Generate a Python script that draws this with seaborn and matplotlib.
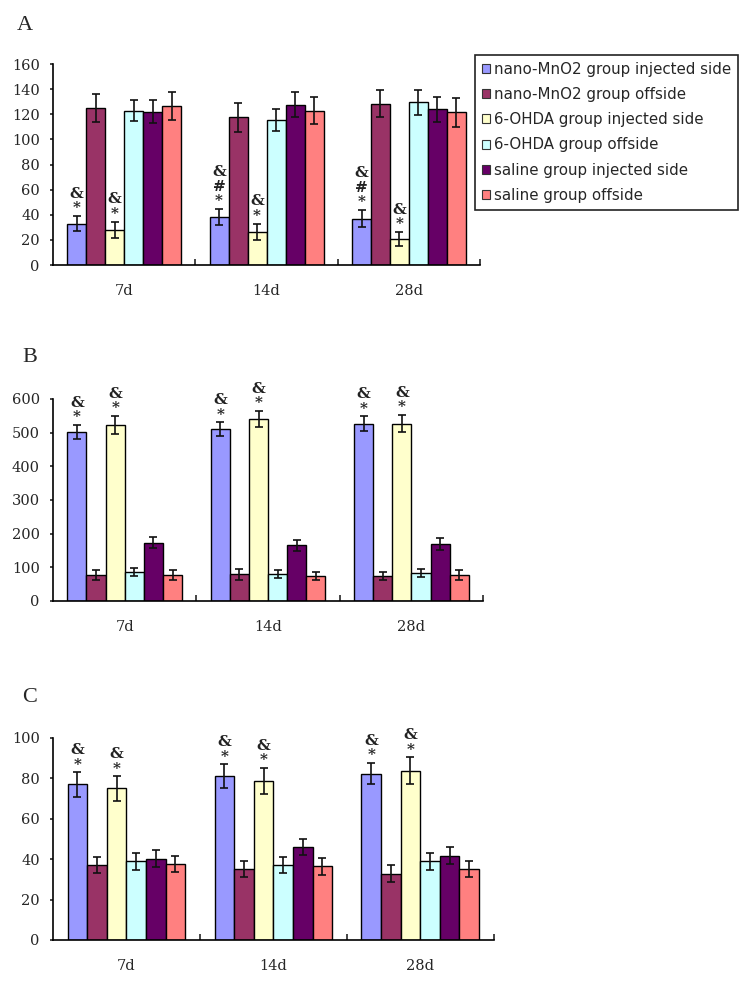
import pandas as pd
import seaborn as sns
import matplotlib.pyplot as plt
from matplotlib.patches import Patch

# --- data ---
groups = ["nano-MnO2 group injected side", "nano-MnO2 group offside",
          "6-OHDA group injected side", "6-OHDA group offside",
          "saline group injected side", "saline group offside"]
days = ["7d", "14d", "28d"]
colors = ["#9999FF", "#993366", "#FFFFCC", "#CCFFFF", "#660066", "#FF8080"]

# rows = groups, columns = days
a_mean = [[33, 38, 37], [125, 117.5, 128.5], [28, 26.5, 21],
          [123, 115.5, 129.5], [122, 127.5, 124], [126.5, 123, 121.5]]
a_err = [[6, 6.5, 7], [11, 11.5, 11], [6.5, 6.5, 5.5],
         [8, 9, 10], [9, 10, 10], [11, 11, 11.5]]
a_marks = {0: ["&\n*", "&\n#\n*", "&\n#\n*"], 2: ["&\n*", "&\n*", "&\n*"]}

b_mean = [[502, 510, 527], [77, 79, 75], [523, 540, 527],
          [87, 79, 83], [173, 165, 169], [77, 75, 77]]
b_err = [[21, 21, 21], [14, 17, 12], [26, 24, 25],
         [12, 12, 13], [16, 17, 17], [14, 12, 14]]
b_marks = {0: ["&\n*"] * 3, 2: ["&\n*"] * 3}

c_mean = [[77, 81, 82.3], [37, 35, 32.7], [75, 78.8, 83.8],
          [39, 37, 39], [40.3, 46, 41.8], [37.7, 36.4, 35.2]]
c_err = [[6, 6, 5.3], [4, 4, 4.2], [6, 6.3, 6.6],
         [4.3, 4, 4.3], [4.3, 4, 4.2], [4, 4, 4]]
c_marks = {0: ["&\n*"] * 3, 2: ["&\n*"] * 3}

sns.set_style("ticks")
plt.rcParams['font.family'] = ['DejaVu Serif', 'DejaVu Sans']


def draw_panel(ax, means, errs, marks, ymax, ystep):
    df = pd.DataFrame([{"day": d, "group": g, "value": means[gi][di]}
                       for gi, g in enumerate(groups) for di, d in enumerate(days)])
    sns.barplot(data=df, x="day", y="value", hue="group", order=days,
                hue_order=groups, palette=colors, saturation=1, errorbar=None,
                edgecolor="black", linewidth=1, width=0.8, gap=0,
                legend=False, ax=ax)
    bar_sets = list(ax.containers)
    for gi, cont in enumerate(bar_sets):
        for di, bar in enumerate(cont):
            x = bar.get_x() + bar.get_width() / 2
            y = bar.get_height()
            e = errs[gi][di]
            ax.errorbar(x, y, yerr=e, fmt="none", ecolor="#111111",
                        elinewidth=1.2, capsize=3, capthick=1.2)
            if gi in marks:
                ax.annotate(marks[gi][di], xy=(x, y + e), xytext=(0, 0.5),
                            textcoords="offset points", ha="center", va="bottom",
                            fontsize=11, fontweight="bold", color="#222222",
                            linespacing=1.05)
    ax.set_xlim(-0.5, 2.5)
    ax.set_ylim(0, ymax)
    ax.set_yticks(range(0, ymax + 1, ystep))
    ax.set_xticks([0.5, 1.5, 2.5], minor=True)
    ax.tick_params(axis="x", which="major", length=0, pad=14, labelsize=10.5)
    ax.tick_params(axis="x", which="minor", direction="in", length=4, width=1.2)
    ax.tick_params(axis="y", length=2.5, width=1.2, pad=7, labelsize=10.5)
    ax.set_xlabel("")
    ax.set_ylabel("")
    for s in ["top", "right"]:
        ax.spines[s].set_visible(False)
    for s in ["left", "bottom"]:
        ax.spines[s].set_linewidth(1.2)
        ax.spines[s].set_color("black")


fig = plt.figure(figsize=(7.52, 9.82), dpi=100)
ax_a = fig.add_axes([0.0705, 0.7301, 0.568, 0.2047])
ax_b = fig.add_axes([0.0705, 0.3880, 0.572, 0.2057])
ax_c = fig.add_axes([0.0705, 0.0428, 0.586, 0.2057])

draw_panel(ax_a, a_mean, a_err, a_marks, 160, 20)
draw_panel(ax_b, b_mean, b_err, b_marks, 600, 100)
draw_panel(ax_c, c_mean, c_err, c_marks, 100, 20)

for lab, (x, y) in zip("ABC", [(17, 25), (22, 357), (22, 698)]):
    fig.text(x / 752, 1 - y / 982, lab, fontsize=16, family="Liberation Serif",
             ha="left", va="center")

handles = [Patch(facecolor=c, edgecolor="#333333", linewidth=0.8) for c in colors]
leg = fig.legend(handles, groups, loc="upper left",
                 bbox_to_anchor=(475 / 752, 1 - 55 / 982),
                 prop={"family": "DejaVu Sans", "size": 10.8},
                 handlelength=0.55, handleheight=0.55, handletextpad=0.3,
                 labelspacing=0.68, borderpad=0.45, borderaxespad=0,
                 fancybox=False, framealpha=1)
leg.get_frame().set_edgecolor("#222222")
leg.get_frame().set_linewidth(1.2)

fig.savefig("out.png", dpi=100)
